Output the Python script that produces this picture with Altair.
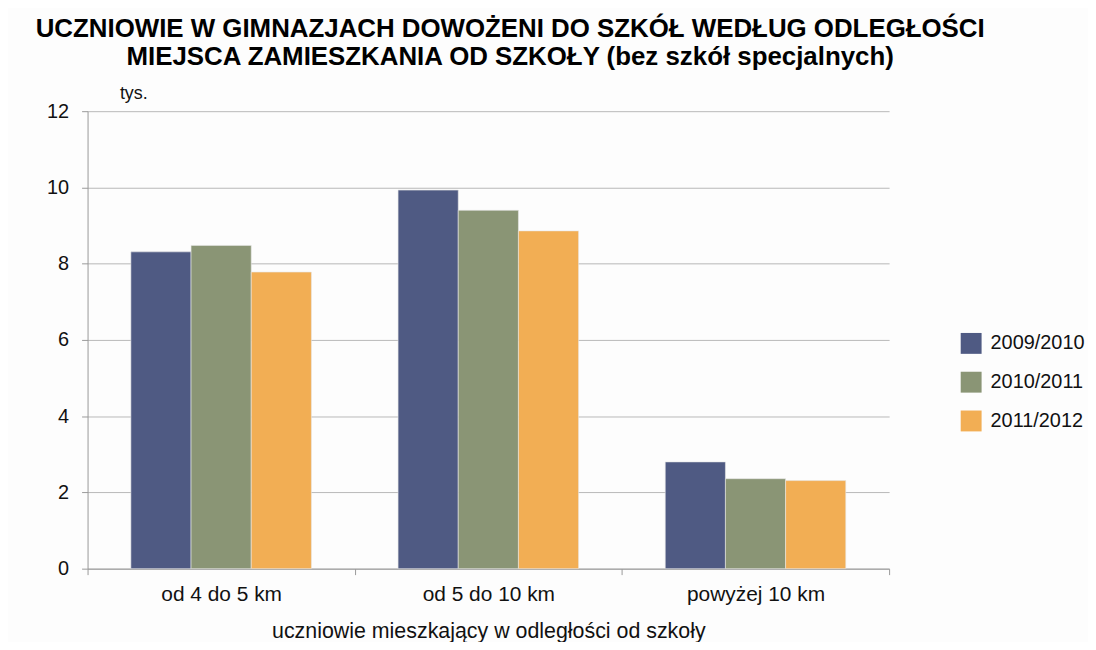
import altair as alt
import pandas as pd

categories = ["od 4 do 5 km", "od 5 do 10 km", "powyżej 10  km"]
years = ["2009/2010", "2010/2011", "2011/2012"]
v_2009 = [8.31, 9.93, 2.80]
v_2010 = [8.48, 9.40, 2.36]
v_2011 = [7.78, 8.86, 2.31]
colors = ["#4F5A83", "#8A9575", "#F2AE54"]

rows = []
for yr, vals in zip(years, [v_2009, v_2010, v_2011]):
    for c, v in zip(categories, vals):
        rows.append({"kat": c, "rok": yr, "val": v})
df = pd.DataFrame(rows)

FONT = "Liberation Sans"

chart = alt.Chart(df).mark_bar(stroke="#e8e8e8", strokeWidth=0.6).encode(
    x=alt.X("kat:N", sort=categories,
            scale=alt.Scale(paddingInner=0, paddingOuter=0),
            axis=alt.Axis(title="uczniowie mieszkający w odległości od szkoły",
                          labelAngle=0, labelFontSize=21, labelFont=FONT, labelColor="#111",
                          labelPadding=9, tickBand="extent", tickSize=6,
                          tickColor="#999", domainColor="#999",
                          titleFontSize=21.5, titleFont=FONT, titleFontWeight="normal",
                          titleColor="#111", titlePadding=16)),
    xOffset=alt.XOffset("rok:N", sort=years,
                        scale=alt.Scale(paddingInner=0, paddingOuter=0.72)),
    y=alt.Y("val:Q", scale=alt.Scale(domain=[0, 12], nice=False),
            axis=alt.Axis(values=[0, 2, 4, 6, 8, 10, 12], title="tys.",
                          titleAngle=0, titleAlign="left", titleBaseline="alphabetic",
                          titleX=32, titleY=-13, titleFontSize=18, titleFont=FONT,
                          titleFontWeight="normal", titleColor="#111",
                          labelFontSize=20, labelFont=FONT, labelColor="#111",
                          labelPadding=13, tickSize=6, tickColor="#999",
                          domainColor="#999", gridColor="#b8b8b8", gridWidth=1)),
    color=alt.Color("rok:N", sort=years,
                    scale=alt.Scale(domain=years, range=colors),
                    legend=alt.Legend(title=None, orient="none", legendX=878, legendY=223,
                                      symbolType="square", symbolSize=441, symbolStrokeWidth=0,
                                      labelFontSize=20, labelFont=FONT, labelColor="#111",
                                      labelOffset=9, rowPadding=18)),
).properties(
    width=806, height=460,
    title=alt.TitleParams(
        text=["UCZNIOWIE W GIMNAZJACH DOWOŻENI DO SZKÓŁ WEDŁUG ODLEGŁOŚCI",
              "MIEJSCA ZAMIESZKANIA OD SZKOŁY (bez szkół specjalnych)"],
        fontSize=26, font=FONT, fontWeight="bold", color="#000",
        anchor="middle", dx=22, offset=14, lineHeight=29),
    autosize=alt.AutoSizeParams(type="none"),
    padding={"left": 80, "top": 102, "right": 200, "bottom": 72},
    background="#fdfdfd",
).configure_view(stroke=None)

chart.save("out.html", embed_options={"renderer": "svg", "actions": False})
